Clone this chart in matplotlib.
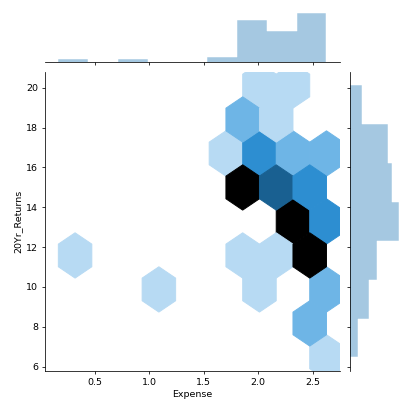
import colorsys
import numpy as np
import matplotlib
matplotlib.use("Agg")
import matplotlib.pyplot as plt
from matplotlib.colors import LinearSegmentedColormap, to_rgb

# hex cells: centre of each occupied cell and its count
hex_x = [0.3208, 1.0895, 1.8583, 2.1658, 2.012, 2.627, 2.012, 2.3195, 2.1658, 1.7045,
         2.627, 2.4733, 1.8583, 2.3195, 2.627,
         2.012, 2.4733, 2.627,
         2.1658,
         1.8583, 2.3195, 2.4733]
hex_y = [11.579, 9.8725, 11.579, 11.579, 9.8725, 6.46, 20.11, 20.11, 18.404, 16.6975,
         9.8725, 8.166, 18.404, 16.6975, 16.6975,
         16.6975, 14.991, 13.285,
         14.991,
         14.991, 13.285, 11.579]
hex_n = [1, 1, 1, 1, 1, 1, 1, 1, 1, 1,
         2, 2, 2, 2, 2,
         3, 3, 3,
         4,
         6, 6, 6]

# data range of the two variables
x_range = (0.167, 2.627)
y_range = (6.46, 20.11)

# marginal histograms
x_hist_counts = [1, 0, 1, 0, 0, 2, 16, 12, 19]
y_hist_counts = [2, 5, 7, 13, 11, 10, 3]

# seaborn-like cmap: C0 hue, lightness 1 -> 0
base = to_rgb("C0")
h, l, s = colorsys.rgb_to_hls(*base)
cols = [colorsys.hls_to_rgb(h, lv, s) for lv in np.linspace(1, 0, 12)]
cmap = LinearSegmentedColormap.from_list("blend", cols)

fig = plt.figure(figsize=(6, 6))
ax = fig.add_axes([0.109, 0.0995, 0.716, 0.726])
ax_top = fig.add_axes([0.109, 0.850, 0.716, 0.125], sharex=ax)
ax_right = fig.add_axes([0.850, 0.0995, 0.125, 0.726], sharey=ax)

ax.hexbin(hex_x, hex_y, C=hex_n, reduce_C_function=np.sum, gridsize=(8, 4),
          extent=(x_range[0], x_range[1], y_range[0], y_range[1]),
          cmap=cmap, vmin=0, vmax=max(hex_n))

dx = x_range[1] - x_range[0]
dy = y_range[1] - y_range[0]
ax.set_xlim(x_range[0] - 0.05 * dx, x_range[1] + 0.05 * dx)
ax.set_ylim(y_range[0] - 0.05 * dy, y_range[1] + 0.05 * dy)
ax.set_xlabel("Expense")
ax.set_ylabel("20Yr_Returns")
ax.spines["top"].set_visible(False)
ax.spines["right"].set_visible(False)

x_edges = np.linspace(x_range[0], x_range[1], len(x_hist_counts) + 1)
y_edges = np.linspace(y_range[0], y_range[1], len(y_hist_counts) + 1)
hist_face = (*to_rgb("C0"), 0.4)
ax_top.stairs(x_hist_counts, x_edges, fill=True, facecolor=hist_face,
              edgecolor="white", linewidth=0.5)
ax_right.stairs(y_hist_counts, y_edges, fill=True, orientation="horizontal",
                facecolor=hist_face, edgecolor="white", linewidth=0.5)
ax_top.set_ylim(0, max(x_hist_counts) * 1.05)
ax_right.set_xlim(0, max(y_hist_counts) * 1.05)

for sp in ["top", "right", "left"]:
    ax_top.spines[sp].set_visible(False)
for sp in ["top", "right", "bottom"]:
    ax_right.spines[sp].set_visible(False)
ax_top.tick_params(labelbottom=False, left=False, labelleft=False)
ax_right.tick_params(labelleft=False, bottom=False, labelbottom=False)

fig.savefig("out.png", dpi=412 / 6)
